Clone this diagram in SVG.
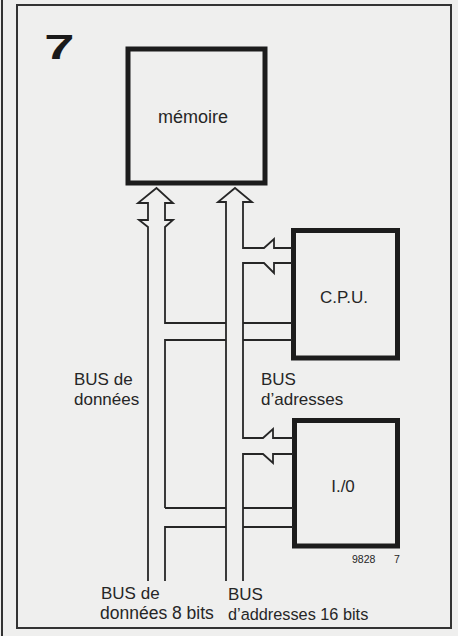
<svg xmlns="http://www.w3.org/2000/svg" width="458" height="636" viewBox="0 0 458 636">
<style>
.box{fill:none;stroke:#1c1c1c;stroke-width:5}
.ln{fill:none;stroke:#262626;stroke-width:1.8;stroke-linejoin:miter}
.t{font-family:"Liberation Sans",Arial,sans-serif;font-size:17px;fill:#262626}
.c{text-anchor:middle}
</style>
<rect width="458" height="636" fill="#efefee"/>
<g id="frame">
<line x1="2" y1="0" x2="2" y2="636" stroke="#333" stroke-width="2"/>
<rect x="17" y="5" width="434" height="623" fill="none" stroke="#333" stroke-width="2"/>
<text x="28.5" y="59" transform="scale(1.55,1)" style="font-family:'Liberation Sans',Arial,sans-serif;font-size:35px;font-weight:bold" fill="#1a1a1a">7</text>
</g>
<g id="memoire">
<rect class="box" x="128" y="49" width="137" height="134"/>
<text class="t c" x="193" y="123" style="font-size:18px">mémoire</text>
</g>
<g id="cpu">
<rect class="box" x="293.5" y="230.5" width="104" height="127.5"/>
<text class="t c" x="344" y="303">C.P.U.</text>
</g>
<g id="io">
<rect class="box" x="294.5" y="420.5" width="103" height="125.5"/>
<text class="t c" x="343" y="492">I./0</text>
</g>
<g id="connectors">
<!-- data bus -->
<path class="ln" d="M148,581 V227 L139,220 H148 V203 H138 L156.5,188 L173,203 H165 V220 H173 L165,227 V323 H226"/>
<path class="ln" d="M165,508 V340 H226"/>
<path class="ln" d="M165,581 V527 H226"/>
<path class="ln" d="M165,508 H226"/>
<line class="ln" x1="243" y1="323" x2="292" y2="323"/>
<line class="ln" x1="243" y1="340" x2="292" y2="340"/>
<line class="ln" x1="243" y1="508" x2="293" y2="508"/>
<line class="ln" x1="243" y1="527" x2="293" y2="527"/>
<!-- address bus -->
<path class="ln" d="M226,581 V202 H218 L235,188 L252,202 H243 V248 H264 L274,239 V248 H292"/>
<path class="ln" d="M292,263 H274 V273 L264,263 H243 V438 H263 L273,429 V438 H293"/>
<path class="ln" d="M293,454 H273 V463 L263,454 H243 V581"/>
</g>
<g id="labels">
<text class="t" x="74" y="385">BUS de</text>
<text class="t" x="74" y="405">données</text>
<text class="t" x="261" y="385">BUS</text>
<text class="t" x="261" y="405">d’adresses</text>
<text class="t" x="101" y="599">BUS de</text>
<text class="t" x="100" y="619" style="font-size:17.5px">données 8 bits</text>
<text class="t" x="228" y="600">BUS</text>
<text class="t" x="228" y="620" style="font-size:16.3px">d’addresses 16 bits</text>
<text class="t" x="352" y="563" style="font-size:10.5px">9828</text>
<text class="t" x="394" y="563" style="font-size:10.5px">7</text>
</g>
</svg>
